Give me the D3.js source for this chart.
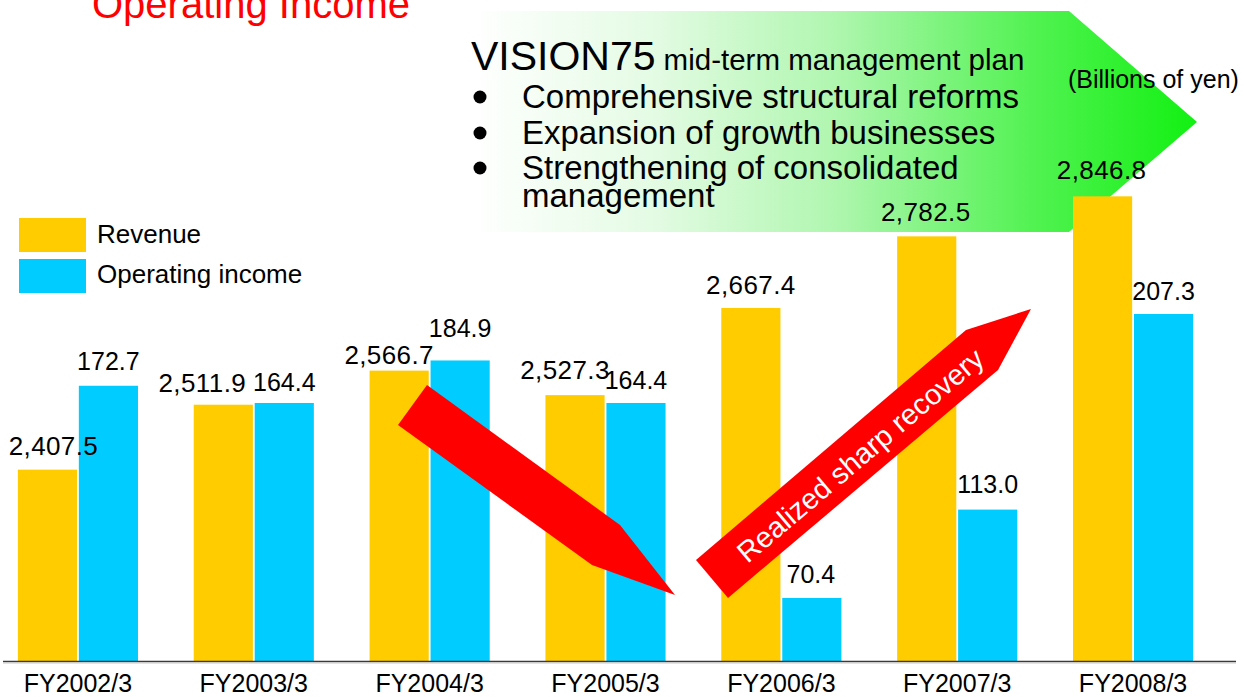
<!DOCTYPE html>
<html>
<head>
<meta charset="utf-8">
<script src="https://cdn.jsdelivr.net/npm/d3@7/dist/d3.min.js"></script>
<style>
  body { margin: 0; background: #fff; }
  text { font-family: "Liberation Sans", Arial, sans-serif; }
</style>
</head>
<body>
<script>
const width = 1244;
const height = 697;

// data
const years = ['FY2002/3', 'FY2003/3', 'FY2004/3', 'FY2005/3', 'FY2006/3', 'FY2007/3', 'FY2008/3'];
const revenue = [2407.5, 2511.9, 2566.7, 2527.3, 2667.4, 2782.5, 2846.8];
const opIncome = [172.7, 164.4, 184.9, 164.4, 70.4, 113.0, 207.3];
const seriesNames = ['Revenue', 'Operating income'];
const bullets = ['Comprehensive structural reforms', 'Expansion of growth businesses', 'Strengthening of consolidated', 'management'];

// label tweaks (gap above bar top, horizontal nudge) - labels in the source are hand placed
const revGap = [15, 13, 7, 16, 14, 15, 17];
const revDx = [6, -21, -10, -10, 0, -1, -1];
const opGap = [16, 12, 23, 14, 15, 17, 14];
const opDx = [0, 0, 0, 0, -1, 0, 0];

const colors = { rev: '#FFCC00', op: '#00CCFF' };
const baseY = 661;

const svg = d3.select('body').append('svg')
  .attr('width', width)
  .attr('height', height);

const x0 = d3.scaleBand()
  .domain(years)
  .range([-10, 1221])
  .paddingInner(0.317)
  .paddingOuter(0.1585);

const x1 = d3.scaleBand()
  .domain(['rev', 'op'])
  .range([0, x0.bandwidth()])
  .paddingInner(0.03);

const yRev = d3.scaleLinear().domain([2100, 3000]).range([baseY, baseY - 560]);
const yOp = d3.scaleLinear().domain([40, 310]).range([baseY, baseY - 560]);

const defs = svg.append('defs');
const grad = defs.append('linearGradient')
  .attr('id', 'greenFade')
  .attr('x1', 0).attr('x2', 1).attr('y1', 0).attr('y2', 0);
[[0, '#ffffff'], [0.25, '#e4fbe4'], [0.5, '#b0f6b0'], [0.78, '#50f250'], [1, '#12f012']]
  .forEach(s => grad.append('stop').attr('offset', s[0]).attr('stop-color', s[1]));

// title (cut off at the top like the slide)
svg.append('text')
  .attr('x', 92).attr('y', 18)
  .attr('font-size', 40)
  .attr('fill', '#FF0000')
  .text('Operating Income');

// VISION75 banner arrow
svg.append('path')
  .attr('d', 'M470,11 L1069,11 L1197,122 L1069,232 L470,232 Z')
  .attr('fill', 'url(#greenFade)');

const banner = svg.append('g');
const head = banner.append('text').attr('x', 471).attr('y', 70);
head.append('tspan').attr('font-size', 41).text('VISION75');
head.append('tspan').attr('font-size', 29.5).attr('dx', 8).text('mid-term management plan');

const lineY = [108, 144, 179, 207];
banner.selectAll('.bl')
  .data(bullets)
  .enter().append('text')
    .attr('class', 'bl')
    .attr('x', 522)
    .attr('y', (d, i) => lineY[i])
    .attr('font-size', 33)
    .text(d => d);
banner.selectAll('circle')
  .data(bullets.slice(0, 3))
  .enter().append('circle')
    .attr('cx', 480)
    .attr('cy', (d, i) => lineY[i] - 11)
    .attr('r', 6.5)
    .attr('fill', '#000');

svg.append('text')
  .attr('x', 1068).attr('y', 88)
  .attr('font-size', 25)
  .text('(Billions of yen)');

// legend
const legend = svg.append('g');
seriesNames.forEach((name, i) => {
  legend.append('rect')
    .attr('x', 19).attr('y', 218 + i * 41)
    .attr('width', 67).attr('height', 34)
    .attr('fill', i === 0 ? colors.rev : colors.op);
  legend.append('text')
    .attr('x', 97).attr('y', 243 + i * 40)
    .attr('font-size', 26)
    .text(name);
});

// bars
const groups = svg.append('g')
  .selectAll('g')
  .data(years)
  .enter().append('g')
    .attr('transform', d => `translate(${x0(d)},0)`);

groups.append('rect')
  .attr('x', x1('rev'))
  .attr('width', x1.bandwidth())
  .attr('y', (d, i) => yRev(revenue[i]))
  .attr('height', (d, i) => baseY - yRev(revenue[i]))
  .attr('fill', colors.rev);

groups.append('rect')
  .attr('x', x1('op'))
  .attr('width', x1.bandwidth())
  .attr('y', (d, i) => yOp(opIncome[i]))
  .attr('height', (d, i) => baseY - yOp(opIncome[i]))
  .attr('fill', colors.op);

// axis line + category labels
svg.append('line')
  .attr('x1', 3).attr('x2', 1236)
  .attr('y1', baseY + 0.5).attr('y2', baseY + 0.5)
  .attr('stroke', '#3a3a3a').attr('stroke-width', 1.3);
svg.append('line')
  .attr('x1', 3).attr('x2', 1236)
  .attr('y1', baseY + 2).attr('y2', baseY + 2)
  .attr('stroke', '#c8c8c8').attr('stroke-width', 1);

svg.append('g')
  .selectAll('text')
  .data(years)
  .enter().append('text')
    .attr('x', d => x0(d) + x0.bandwidth() / 2)
    .attr('y', 692)
    .attr('text-anchor', 'middle')
    .attr('font-size', 25)
    .text(d => d);

// red trend arrows (annotations)
svg.append('path')
  .attr('d', 'M427,385 L620,525 L675,595 L592,565 L398,425 Z')
  .attr('fill', '#FF0000');
svg.append('path')
  .attr('d', 'M696,560 L966,330 L1031,309 L998,370 L728,598 Z')
  .attr('fill', '#FF0000');
svg.append('text')
  .attr('transform', 'translate(860,455) rotate(-40.3)')
  .attr('text-anchor', 'middle')
  .attr('dy', '0.36em')
  .attr('font-size', 29)
  .attr('fill', '#fff')
  .text('Realized sharp recovery');

// value labels
const fmt = d3.format(',.1f');
groups.append('text')
  .attr('x', (d, i) => x1('rev') + x1.bandwidth() / 2 + revDx[i])
  .attr('y', (d, i) => yRev(revenue[i]) - revGap[i])
  .attr('text-anchor', 'middle')
  .attr('font-size', 26)
  .attr('letter-spacing', 0.4)
  .text((d, i) => fmt(revenue[i]));

groups.append('text')
  .attr('x', (d, i) => x1('op') + x1.bandwidth() / 2 + opDx[i])
  .attr('y', (d, i) => yOp(opIncome[i]) - opGap[i])
  .attr('text-anchor', 'middle')
  .attr('font-size', 25)
  .text((d, i) => fmt(opIncome[i]));
</script>
</body>
</html>
